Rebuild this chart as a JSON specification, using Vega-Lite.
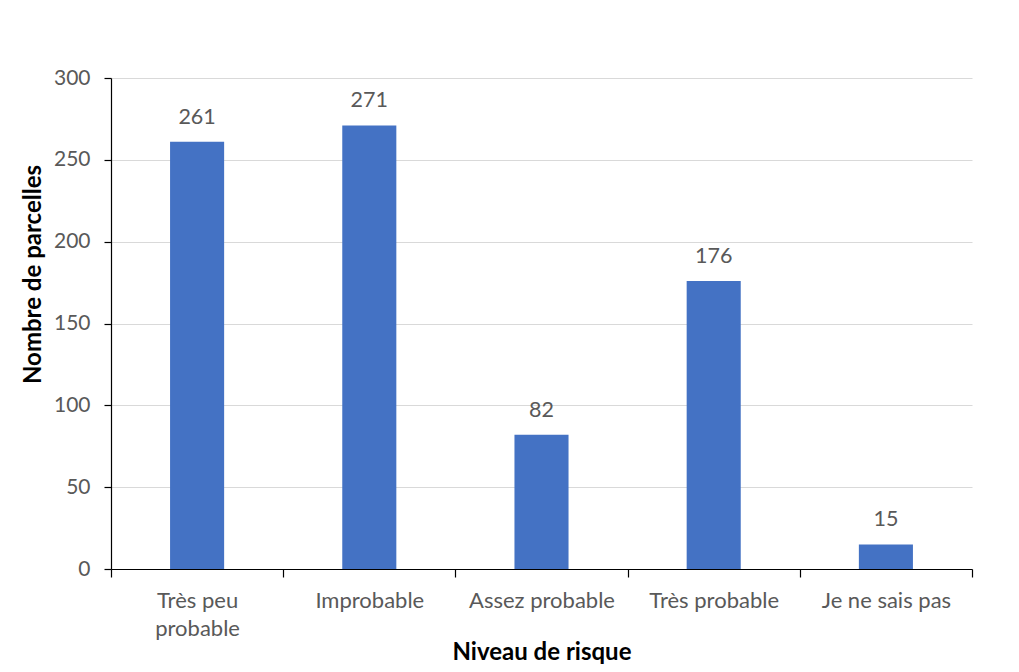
{
  "$schema": "https://vega.github.io/schema/vega-lite/v6.json",
  "autosize": {"type": "none"},
  "width": 861,
  "height": 491,
  "padding": {"left": 111, "top": 78, "right": 47, "bottom": 103},
  "background": "white",
  "config": {
    "font": "Lato",
    "view": {"stroke": null}
  },
  "data": {
    "values": [
      {"niveau": "Très peu probable", "parcelles": 261},
      {"niveau": "Improbable", "parcelles": 271},
      {"niveau": "Assez probable", "parcelles": 82},
      {"niveau": "Très probable", "parcelles": 176},
      {"niveau": "Je ne sais pas", "parcelles": 15}
    ]
  },
  "encoding": {
    "x": {
      "field": "niveau",
      "type": "nominal",
      "sort": null,
      "scale": {"paddingInner": 0, "paddingOuter": 0},
      "axis": {
        "title": "Niveau de risque",
        "titleFont": "Lato",
        "titleFontSize": 24,
        "titleFontWeight": "bold",
        "titleColor": "#000000",
        "titleBaseline": "alphabetic",
        "titleX": 430.5,
        "titleY": 90,
        "labelAngle": 0,
        "labelFontSize": 22,
        "labelColor": "#595959",
        "labelBaseline": "alphabetic",
        "labelPadding": 30,
        "labelLineHeight": 28,
        "labelExpr": "datum.value == 'Très peu probable' ? ['Très peu', 'probable'] : datum.value",
        "tickBand": "extent",
        "tickSize": 8,
        "tickColor": "#000000",
        "domainColor": "#000000",
        "domainWidth": 1.2,
        "tickWidth": 1.2,
        "grid": false
      }
    },
    "y": {
      "field": "parcelles",
      "type": "quantitative",
      "scale": {"domain": [0, 300], "nice": false},
      "axis": {
        "title": "Nombre de parcelles",
        "titleFont": "Lato",
        "titleFontSize": 24,
        "titleFontWeight": "bold",
        "titleColor": "#000000",
        "titleAngle": 270,
        "titleBaseline": "alphabetic",
        "titleAlign": "center",
        "titleX": -71,
        "titleY": 196,
        "values": [0, 50, 100, 150, 200, 250, 300],
        "labelFontSize": 21,
        "labelColor": "#595959",
        "labelPadding": 14,
        "tickSize": 7,
        "tickColor": "#000000",
        "domainColor": "#000000",
        "domainWidth": 1.2,
        "tickWidth": 1.2,
        "grid": true,
        "gridColor": "#d9d9d9",
        "gridWidth": 1
      }
    }
  },
  "layer": [
    {
      "mark": {"type": "bar", "color": "#4472C4", "width": {"band": 0.314}}
    },
    {
      "mark": {
        "type": "text",
        "baseline": "alphabetic",
        "dy": -18,
        "fontSize": 21.5,
        "color": "#595959",
        "font": "Lato"
      },
      "encoding": {"text": {"field": "parcelles", "type": "quantitative"}}
    }
  ]
}
